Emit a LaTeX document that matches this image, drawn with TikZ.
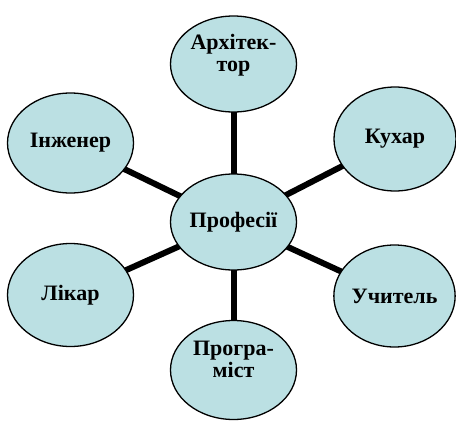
\documentclass[tikz,border=0pt]{standalone}
\usepackage{fontspec}
\setmainfont{Liberation Serif}
\usetikzlibrary{shapes.geometric}
\definecolor{bubble}{HTML}{BBE0E3}
\tikzset{
  bubble/.style={ellipse, draw=black, line width=1.3pt, fill=bubble,
    minimum width=126pt, minimum height=100pt, inner sep=0pt,
    align=center, font=\fontsize{22}{22}\selectfont\bfseries},
  spoke/.style={line width=6pt, draw=black}
}
\begin{document}
\begin{tikzpicture}[x=1pt,y=-1pt]
\useasboundingbox (0,0) rectangle (456,421);
\coordinate (c) at (233.5,222);
\coordinate (pa) at (233.5,64);
\coordinate (pi) at (70.5,143);
\coordinate (pk) at (395,139);
\coordinate (pl) at (70.5,295);
\coordinate (pu) at (394.5,296);
\coordinate (pp) at (233.5,370);
\draw[spoke] (c) -- (pa);
\draw[spoke] (c) -- (pi);
\draw[spoke] (c) -- (pk);
\draw[spoke] (c) -- (pl);
\draw[spoke] (c) -- (pu);
\draw[spoke] (c) -- (pp);
\node[bubble, minimum height=96pt] (arch) at (pa) {Архітек-\\тор\\\mbox{}};
\node[bubble] (inzh) at (pi) {Інженер};
\node[bubble, minimum width=122pt, minimum height=104pt] (kukh) at (pk) {Кухар};
\node[bubble, minimum height=96pt] (prof) at (c) {Професії};
\node[bubble, minimum height=103pt] (likar) at (pl) {Лікар};
\node[bubble, minimum width=121pt, minimum height=102pt] (uch) at (pu) {Учитель};
\node[bubble, minimum height=99pt] (prog) at (pp) {Програ-\\міст\\\mbox{}};
\end{tikzpicture}
\end{document}
